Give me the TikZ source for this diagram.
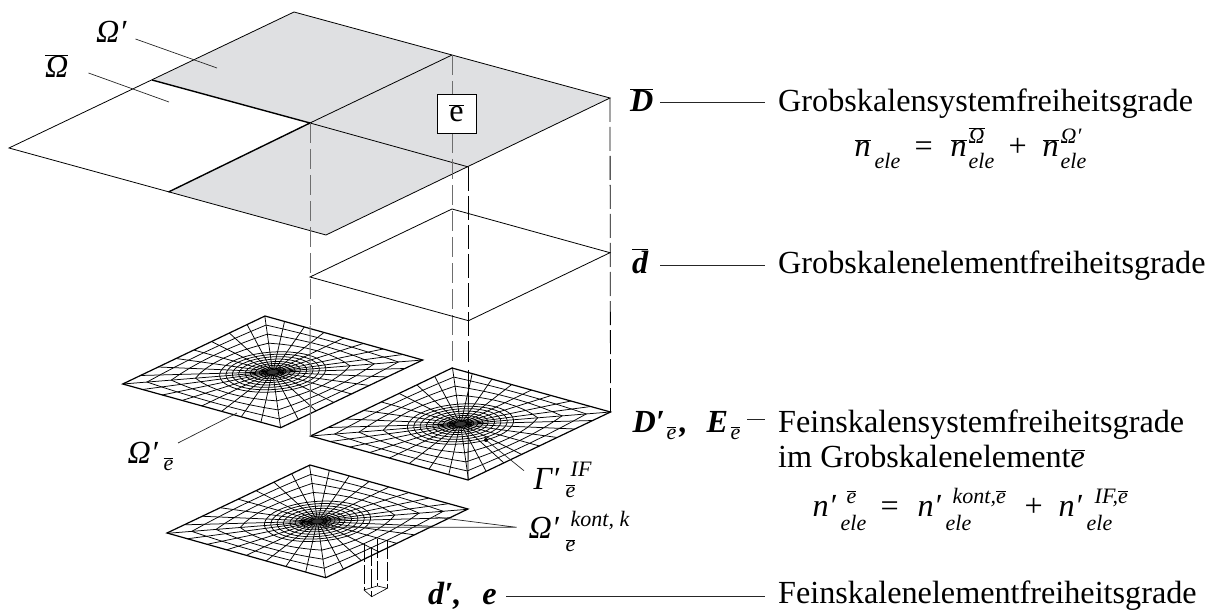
\documentclass[tikz,border=0pt]{standalone}
\usepackage{fontspec}
\setmainfont{Liberation Serif}
\usetikzlibrary{calc}
\definecolor{plategray}{HTML}{DFE0E2}
\definecolor{dashgray}{HTML}{6E6E6E}
\newcommand\bigf{\fontsize{32.2}{36}\selectfont}
\newcommand\smf{\fontsize{22}{24}\selectfont\mdseries\itshape}
\newcommand\ob[1]{$\overline{\hbox{#1}}$}
% place a piece at an offset (x, raise) from the start of the node's line
\newcommand\at[3]{\rlap{\hspace{#1pt}\raisebox{#2pt}{#3}}}
\newcommand\sbar{\ob{e}}
\newcommand\meshplate[3]{%
  \begin{scope}[shift={#1},x={#2},y={#3}]
    \foreach \kk in {0,...,31}{
      \draw[meshline] ({.045*cos(\kk*11.25)},{.045*sin(\kk*11.25)}) -- ({sqx(\kk)},{sqy(\kk)});
    }
    \foreach \ssv in {.25,.5,.75}{
      \draw[meshline] plot[domain=0:32,samples=33,variable=\kk]
        ({(1-\ssv)*.5*cos(\kk*11.25)+\ssv*sqx(\kk)},{(1-\ssv)*.5*sin(\kk*11.25)+\ssv*sqy(\kk)});
    }
    \foreach \rr in {.5,.44,.38,.32,.26,.21,.165,.125,.09,.06,.045}{
      \draw[meshline] plot[domain=0:360,samples=49,variable=\tt] ({\rr*cos(\tt)},{\rr*sin(\tt)});
    }
    \fill[black!80] plot[domain=0:360,samples=25,variable=\tt] ({.05*cos(\tt)},{.05*sin(\tt)}) -- cycle;
  \end{scope}}
\tikzset{
  x=1pt,y=-1pt,
  declare function={
    dd(\k)=min(\k,32-\k);
    sqx(\k)=max(-1,min(1,(8-dd(\k))/4));
    sqy(\k)=max(-1,min(1,(8-dd(mod(\k+24,32)))/4));
  },
  meshline/.style={line width=.75pt,black},
  edge/.style={line width=.8pt,black},
  edgeb/.style={line width=1.4pt,black},
  plateedge/.style={line width=1.2pt,black},
  leader/.style={line width=.7pt,black!85},
  grayrule/.style={line width=1pt,dashgray},
  graydash/.style={grayrule,dash pattern=on 20pt off 6pt},
  blackdash/.style={line width=.8pt,black,dash pattern=on 24pt off 5pt},
  lab/.style={inner sep=0pt,anchor=base west,font=\bigf},
}
\begin{document}
\begin{tikzpicture}
\useasboundingbox (0,0) rectangle (1209,612);
% coarse plate
\coordinate (Dt) at (294,12);
\coordinate (Dr) at (610,98);
\coordinate (Dl) at (9,148);
\coordinate (Db) at (326,235);
\coordinate (Dc) at (310,123);
\coordinate (Dtm) at (452,55);
\coordinate (Dlm) at (152,80);
\coordinate (Dbm) at (168.5,192);
\coordinate (Drm) at (468.5,167);
% element plate
\coordinate (dt) at (452,209);
\coordinate (dr) at (610,252.7);
\coordinate (dl) at (310,277);
\coordinate (db) at (468.5,320.7);
% mesh plates
\coordinate (At) at (265,316);
\coordinate (Ar) at (422.7,360);
\coordinate (Al) at (122.7,384);
\coordinate (Ab) at (280.7,427.7);
\coordinate (Bt) at (452,368);
\coordinate (Br) at (610.5,412);
\coordinate (Bl) at (310.5,436);
\coordinate (Bb) at (468,480);
\coordinate (Ct) at (310,465);
\coordinate (Cr) at (468,509);
\coordinate (Cl) at (167,533);
\coordinate (Cb) at (325.7,577.7);

\fill[plategray] (Dt) -- (Dr) -- (Db) -- (Dbm) -- (Dc) -- (Dlm) -- cycle;
\draw[edge] (Dt) -- (Dr) -- (Db) -- (Dl) -- cycle;
\draw[edge] (Dtm) -- (Dc) (Dc) -- (Drm);
\draw[edgeb] (Dlm) -- (Dc) -- (Dbm);

% verticals
\draw[graydash] (Dc) -- (310,325);
\draw[graydash] (Dtm) -- (Bt);
\draw[blackdash] (Drm) -- (468.5,362);
\draw[blackdash] (Dr) -- (Br);

% element plate
\draw[edge] (dt) -- (dr) -- (db) -- (dl) -- cycle;

% meshes
\meshplate{(272.7,372)}{(78.9pt,-22pt)}{(-71pt,-34pt)}
\meshplate{(460.5,424)}{(79pt,-22pt)}{(-71pt,-34pt)}
\meshplate{(317.5,521.3)}{(79pt,-22pt)}{(-71pt,-34pt)}
\draw[plateedge] (At) -- (Ar) -- (Ab) -- (Al) -- cycle;
\draw[plateedge] (Bt) -- (Br) -- (Bb) -- (Bl) -- cycle;
\draw[plateedge] (Ct) -- (Cr) -- (Cb) -- (Cl) -- cycle;
% verticals that run over the meshes
\draw[grayrule] (310,326) -- (Bl);
\draw[line width=.8pt,black] (468.5,370) -- (Bb);

% small element column
\coordinate (Ea) at (364,543);
\coordinate (Eb) at (371.7,547);
\coordinate (Ec) at (377.3,539);
\coordinate (Ed) at (387.3,540);
\coordinate (Ea2) at (364,590);
\coordinate (Eb2) at (371.7,596.7);
\coordinate (Ec2) at (377.3,586);
\coordinate (Ed2) at (387.3,588.3);
\foreach \pa/\pb in {Ea/Ea2,Eb/Eb2,Ec/Ec2,Ed/Ed2}{
  \draw[line width=.6pt,black,dash pattern=on 19pt off 3pt] (\pa) -- (\pb);
}
\draw[line width=.6pt] (Ea2) -- (Eb2) -- (Ed2) -- (Ec2) -- cycle;

% element tag
\node[draw,fill=white,line width=.8pt,minimum width=39pt,minimum height=39pt,inner sep=0pt,font=\bigf] (etag) at (456.5,113.5) {\ob{e}};

% labels
\node[lab] (lOmP) at (96,43) {\itshape Ω′};
\node[lab] (lOmB) at (45,78) {\itshape \ob{Ω}};
\coordinate (oP1) at (135.5,39); \coordinate (oP2) at (217,68);
\coordinate (oB1) at (88.5,73); \coordinate (oB2) at (169,102);
\draw[leader] (oP1) -- (oP2);
\draw[leader] (oB1) -- (oB2);

\node[lab] (lD) at (630,112) {\bfseries\itshape\ob{D}};
\node[lab] (lDt) at (778,112) {Grobskalensystemfreiheitsgrade};
\draw[leader] (660,102) -- (765,102);
\node[lab] (lF1) at (854,157) {\itshape
  \at{0}{0}{\ob{n}}\at{20}{-12}{\smf ele}\at{60}{0}{\upshape =}%
  \at{96}{0}{\ob{n}}\at{114}{13}{\smf\ob{Ω}}\at{114}{-12}{\smf ele}\at{154}{0}{\upshape +}%
  \at{188}{0}{\ob{n}}\at{206}{13}{\smf Ω′}\at{206}{-12}{\smf ele}\hspace{232pt}};

\node[lab] (ld) at (632,273) {\bfseries\itshape\ob{d}};
\node[lab] (ldt) at (778,273) {Grobskalenelementfreiheitsgrade};
\draw[leader] (660,265.6) -- (765,265.6);

\node[lab] (lDp) at (632,432) {\bfseries\itshape
  \at{0}{0}{D′}\at{34}{-7}{\smf\sbar}\at{47}{0}{,}\at{74}{0}{E}\at{98}{-7}{\smf\sbar}\hspace{108pt}};
\draw[leader] (747,419) -- (765,419);
\node[lab] (lDpt) at (778,432) {Feinskalensystemfreiheitsgrade};
\node[lab] (lDpu) at (778,467) {im Grobskalenelement\itshape\ob{e}};
\node[lab] (lF2) at (812,516) {\itshape
  \at{0}{0}{n′}\at{34}{13}{\smf\sbar}\at{28}{-14}{\smf ele}\at{68}{0}{\upshape =}%
  \at{105}{0}{n′}\at{140}{13}{\smf kont,\sbar}\at{133}{-14}{\smf ele}\at{212}{0}{\upshape +}%
  \at{246}{0}{n′}\at{282}{13}{\smf IF,\sbar}\at{274}{-14}{\smf ele}\hspace{324pt}};

\node[lab] (lde) at (428,604) {\bfseries\itshape d′,\hspace{21pt}e};
\node[lab] (ldet) at (778,603) {Feinskalenelementfreiheitsgrade};
\draw[leader] (506,596.5) -- (765,596.5);

\node[lab] (lOe) at (127,463) {\itshape\at{0}{0}{Ω′}\at{36}{-7}{\smf\sbar}\hspace{46pt}};
\coordinate (oe1) at (178,443); \coordinate (oe2) at (237,413);
\draw[leader] (oe1) -- (oe2);

\node[lab] (lGa) at (533,489) {\itshape\at{0}{0}{Γ′}\at{37}{13}{\smf IF}\at{32}{-8}{\smf\sbar}\hspace{60pt}};
\coordinate (ga1) at (524,470.7); \coordinate (ga2) at (486,440);
\draw[leader] (ga1) -- (ga2);
\fill (ga2) circle (2pt);

\node[lab] (lOk) at (528,538.7) {\itshape\at{0}{0}{Ω′}\at{42}{12}{\smf kont, k}\at{37}{-13}{\smf\sbar}\hspace{105pt}};
\coordinate (ok0) at (516.7,527.3); \coordinate (ok1) at (435,517); \coordinate (ok2) at (320,527.3);
\draw[leader] (ok1) -- (ok0) -- (ok2);
\end{tikzpicture}
\end{document}
